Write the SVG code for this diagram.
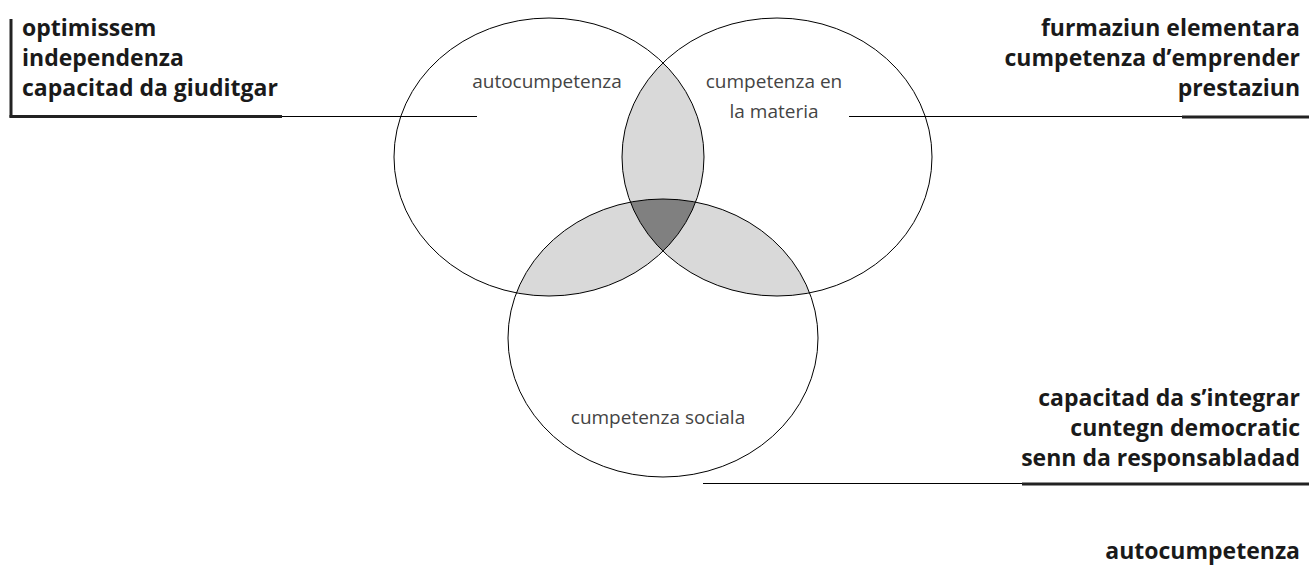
<svg xmlns="http://www.w3.org/2000/svg" width="1309" height="580" viewBox="0 0 1309 580">
  <style>
    .circle { fill: none; stroke: #000; stroke-width: 1; }
    .light { fill: #d9d9d9; }
    .dark { fill: #808080; }
    .thin { stroke: #000; stroke-width: 1; fill: none; }
    .thick { stroke: #222; stroke-width: 3; fill: none; }
    .bold { font-family: "Open Sans", "Noto Sans", "Liberation Sans", sans-serif; font-weight: bold; font-size: 23px; fill: #1a1a1a; }
    .label { font-family: "Open Sans", "Noto Sans", "Liberation Sans", sans-serif; font-weight: 400; font-size: 19px; fill: #444; text-anchor: middle; }
    .right { text-anchor: end; }
  </style>
  <defs>
    <ellipse id="eL" cx="549" cy="157" rx="155" ry="139"/>
    <ellipse id="eR" cx="777" cy="157" rx="155" ry="139"/>
    <ellipse id="eB" cx="663" cy="338" rx="155" ry="139"/>
    <clipPath id="cL"><use href="#eL"/></clipPath>
    <clipPath id="cR"><use href="#eR"/></clipPath>
    <clipPath id="cB"><use href="#eB"/></clipPath>
  </defs>
  <rect width="1309" height="580" fill="#fff"/>

  <g id="overlaps">
    <g clip-path="url(#cL)"><use href="#eR" class="light"/></g>
    <g clip-path="url(#cL)"><use href="#eB" class="light"/></g>
    <g clip-path="url(#cR)"><use href="#eB" class="light"/></g>
    <g clip-path="url(#cL)"><g clip-path="url(#cR)"><use href="#eB" class="dark"/></g></g>
  </g>

  <g id="connectors">
    <line class="thick" x1="11" y1="19" x2="11" y2="117.5"/>
    <line class="thick" x1="9.5" y1="116.5" x2="282" y2="116.5"/>
    <line class="thin" x1="282" y1="116.5" x2="477" y2="116.5"/>
    <line class="thin" x1="849" y1="116.5" x2="1182" y2="116.5"/>
    <line class="thick" x1="1182" y1="117" x2="1309" y2="117"/>
    <line class="thin" x1="703" y1="483.5" x2="1022" y2="483.5"/>
    <line class="thick" x1="1022" y1="484" x2="1309" y2="484"/>
  </g>

  <g id="node-autocumpetenza">
    <use href="#eL" class="circle"/>
    <text class="label" x="547" y="88">autocumpetenza</text>
  </g>
  <g id="node-materia">
    <use href="#eR" class="circle"/>
    <text class="label" x="774" y="88">cumpetenza en</text>
    <text class="label" x="774" y="118">la materia</text>
  </g>
  <g id="node-sociala">
    <use href="#eB" class="circle"/>
    <text class="label" x="658" y="424">cumpetenza sociala</text>
  </g>

  <g id="list-topleft">
    <text class="bold" x="22" y="36">optimissem</text>
    <text class="bold" x="22" y="66">independenza</text>
    <text class="bold" x="22" y="96">capacitad da giuditgar</text>
  </g>
  <g id="list-topright">
    <text class="bold right" x="1300" y="36">furmaziun elementara</text>
    <text class="bold right" x="1300" y="66">cumpetenza d’emprender</text>
    <text class="bold right" x="1300" y="96">prestaziun</text>
  </g>
  <g id="list-bottomright">
    <text class="bold right" x="1300" y="406">capacitad da s’integrar</text>
    <text class="bold right" x="1300" y="436">cuntegn democratic</text>
    <text class="bold right" x="1300" y="466">senn da responsabladad</text>
    <text class="bold right" x="1300" y="559">autocumpetenza</text>
  </g>
</svg>
